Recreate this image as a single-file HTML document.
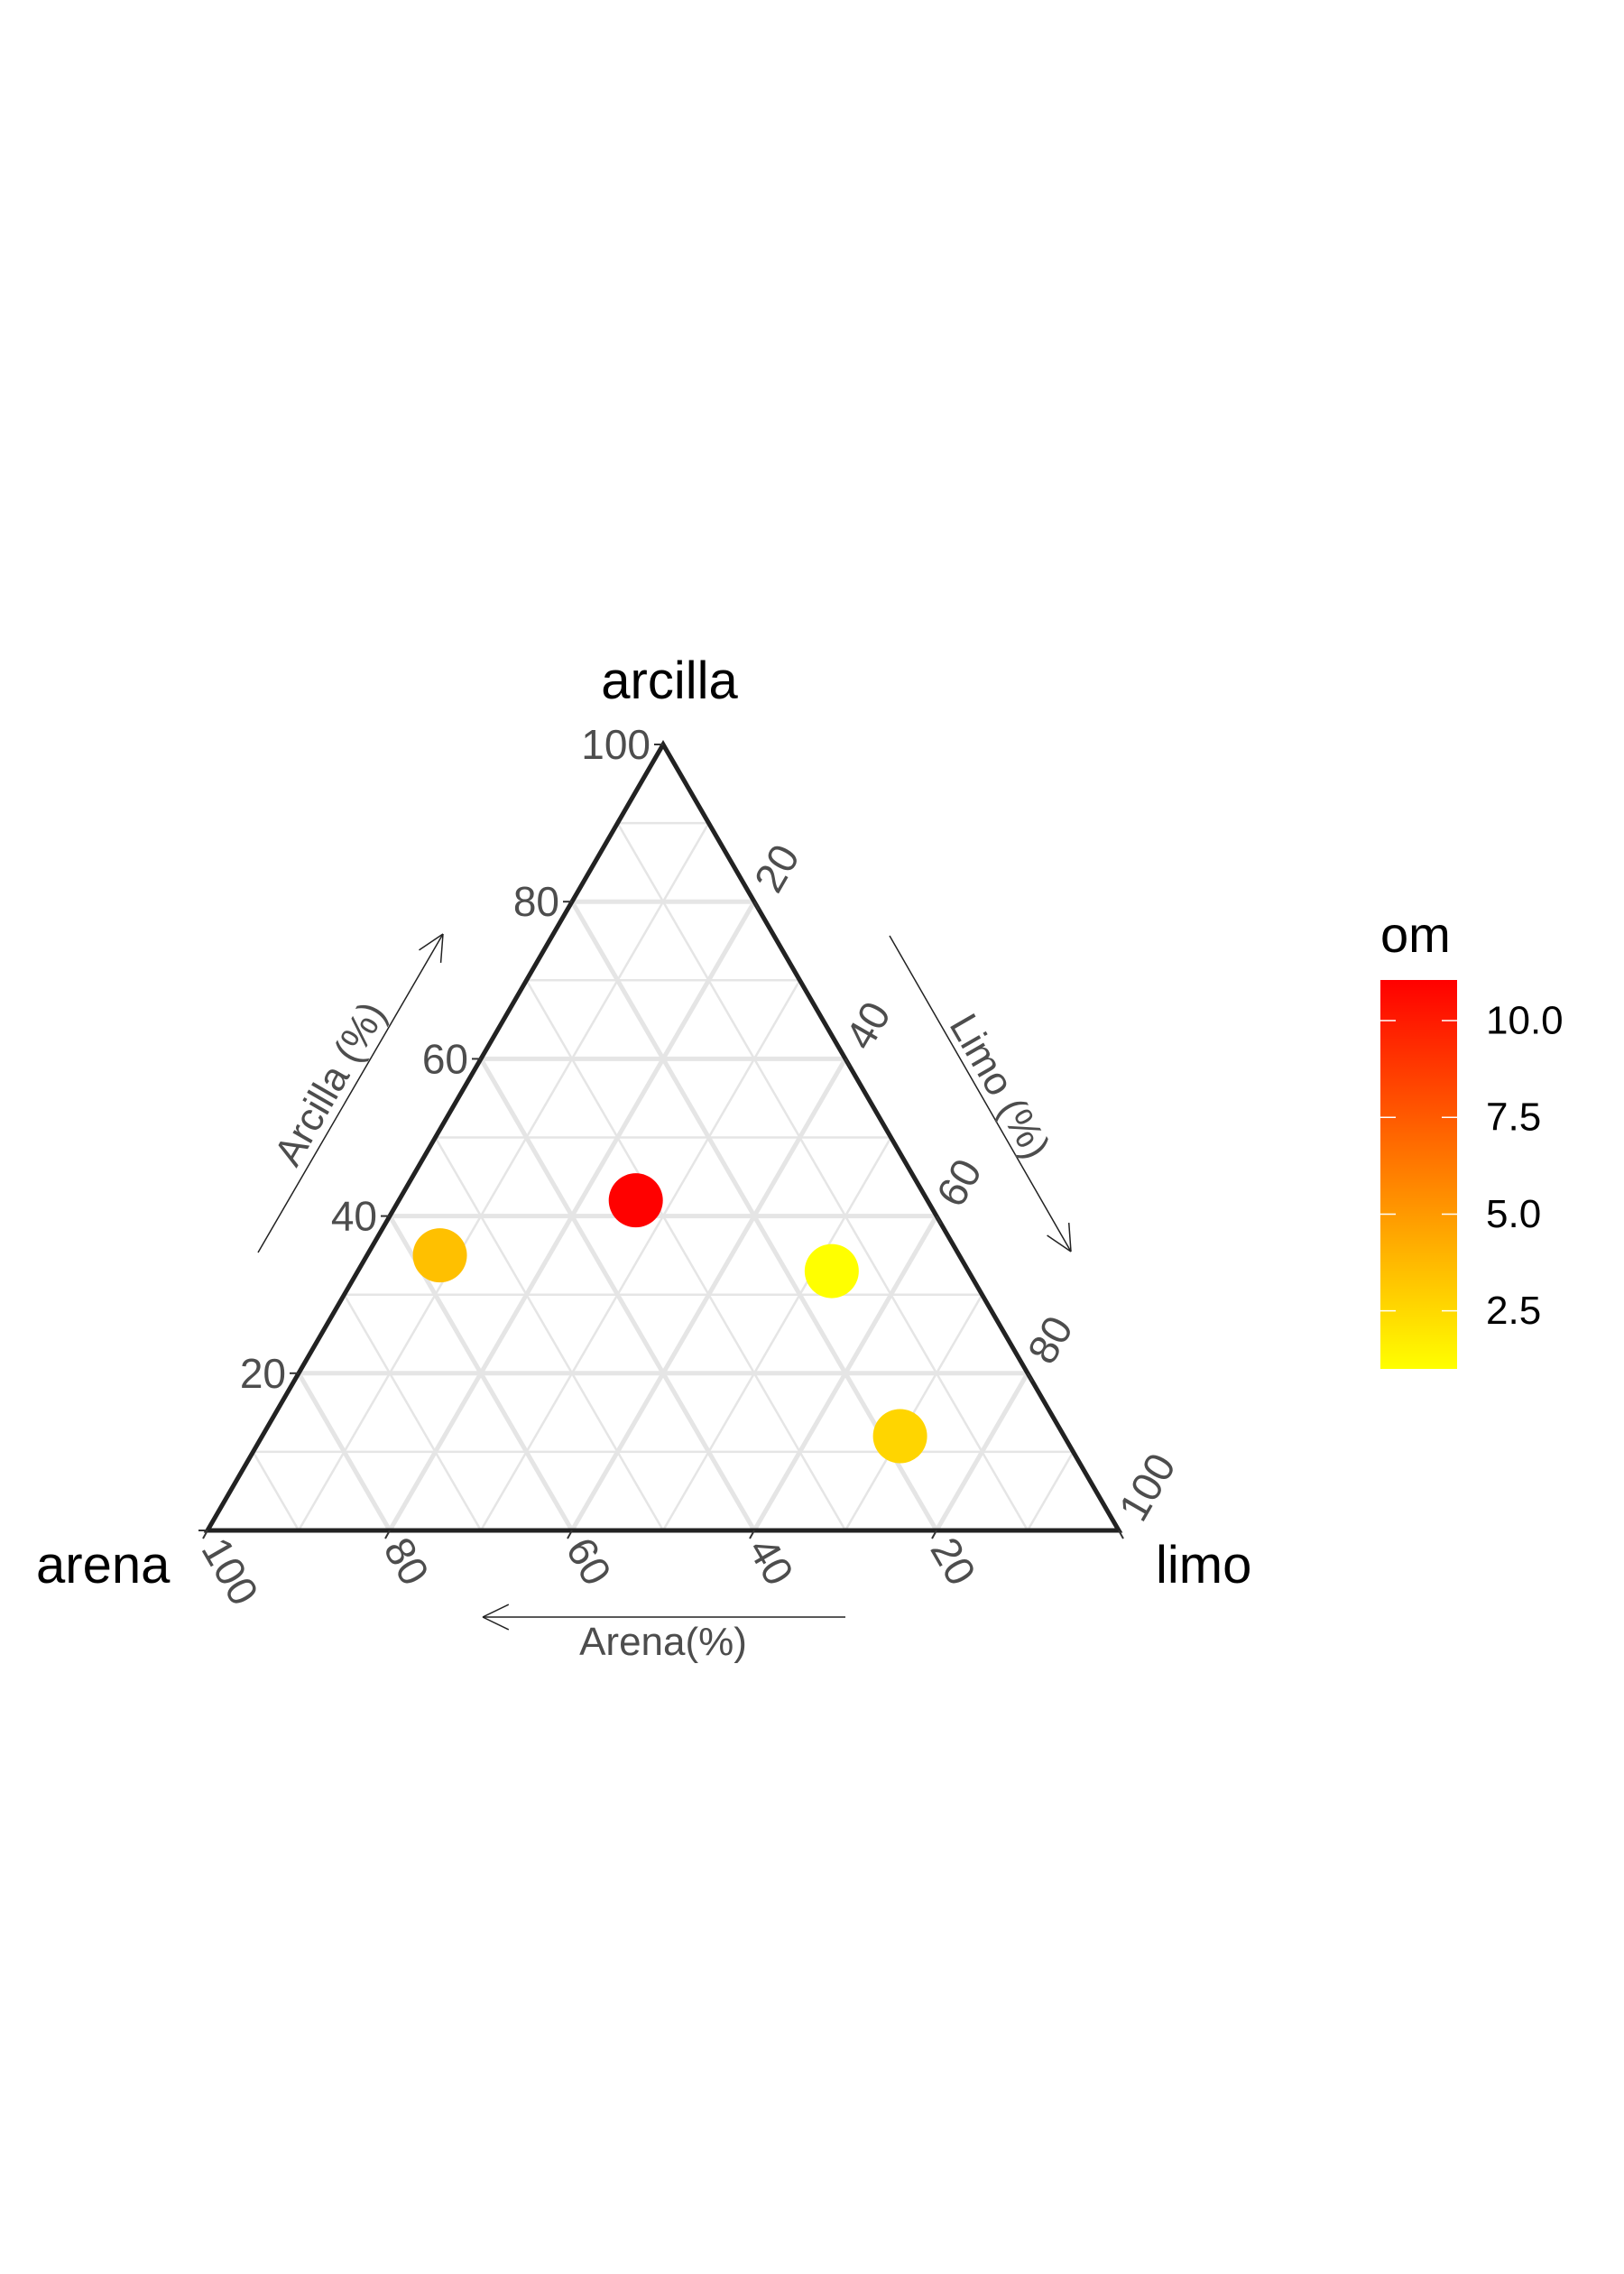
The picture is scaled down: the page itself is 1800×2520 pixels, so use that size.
<!DOCTYPE html>
<html><head><meta charset="utf-8"><style>
html,body{margin:0;padding:0;background:#fff;}
svg{display:block;font-family:"Liberation Sans",Arial,sans-serif;}
</style></head><body>
<svg id="chart" width="1800" height="2520" viewBox="0 0 1800 2520" xmlns="http://www.w3.org/2000/svg">
<defs>
<linearGradient id="omgrad" x1="0" y1="1" x2="0" y2="0">
<stop offset="0" stop-color="#ffff00"/><stop offset="1" stop-color="#ff0000"/>
</linearGradient>
</defs>
<g id="grid"></g>
<g id="axes"></g>
<g id="points"></g>
<g id="legend"></g>
</svg>
<script>
const arenaVals = [57, 32, 15, 18];
const limoVals  = [8, 26, 52, 70];
const clayVals  = [35, 42, 33, 12];
const omVals    = [3.5, 11.0, 1.0, 2.65];
const gridVals = [10,20,30,40,50,60,70,80,90];
const tickVals = [20,40,60,80,100];
const omTicks = [2.5,5.0,7.5,10.0];
const omTickLabels = ["2.5","5.0","7.5","10.0"];

const NS = "http://www.w3.org/2000/svg";
const LX = 230, BY = 1696, W = 1010, H = 871;
function P(arena, limo, clay){
  const s = arena + limo + clay;
  return [LX + (limo + clay/2)/s*W, BY - clay/s*H];
}
function mk(tag, attrs, parent){
  const e = document.createElementNS(NS, tag);
  for (const k in attrs) e.setAttribute(k, attrs[k]);
  parent.appendChild(e); return e;
}
function line(a,b,stroke,w,parent){
  return mk('line',{x1:a[0],y1:a[1],x2:b[0],y2:b[1],stroke:stroke,'stroke-width':w},parent);
}
const grid = document.getElementById('grid');
gridVals.forEach(v=>{
  const w = (v%20===0)?5:2.5;
  let l;
  l = line(P(100-v,0,v), P(0,100-v,v), '#e5e5e5', w, grid);
  
  
  l = line(P(0,v,100-v), P(100-v,v,0), '#e5e5e5', w, grid);
  
  
  l = line(P(v,0,100-v), P(v,100-v,0), '#e5e5e5', w, grid);
  
  
});
const axes = document.getElementById('axes');
const A=P(100,0,0), B=P(0,100,0), C=P(0,0,100);
const tri = mk('polygon',{points:`${A} ${B} ${C}`,fill:'none',stroke:'#222','stroke-width':5,'stroke-linejoin':'miter'},axes);



function text(x,y,str,attrs,parent){
  const t = mk('text',Object.assign({x:x,y:y},attrs),parent);
  t.textContent = str; return t;
}
// clay ticks
[0].concat(tickVals).forEach(v=>{
  const p = P(100-v,0,v);
  line([p[0]-10,p[1]],p,'#333',2,axes);
  if (v>0){
    const t = text(p[0]-14,p[1],String(v),{'text-anchor':'end','dominant-baseline':'central','font-size':46,fill:'#4d4d4d'},axes);
    
    
  }
});
// limo ticks (right edge)
tickVals.forEach(v=>{
  const p = P(0,v,100-v);
  line(p,[p[0]+5,p[1]+9],'#333',2,axes);
  const x=p[0]+12, y=p[1]-15;
  const t = text(x,y,String(v),{'text-anchor':'start','dominant-baseline':'central','font-size':46,fill:'#4d4d4d',transform:`rotate(-60 ${x} ${y})`},axes);
  
  
});
// arena ticks (bottom)
tickVals.forEach(v=>{
  const p = P(v,100-v,0);
  line(p,[p[0]-5,p[1]+9],'#333',2,axes);
  const x=p[0]+6, y=p[1]+12;
  const t = text(x,y,String(v),{'text-anchor':'start','dominant-baseline':'central','font-size':46,fill:'#4d4d4d',transform:`rotate(60 ${x} ${y})`},axes);
  
  
});
// vertex titles
let t;
t = text(742,774,'arcilla',{'text-anchor':'middle','font-size':58,fill:'#000'},axes);
 
t = text(40,1754,'arena',{'text-anchor':'start','font-size':58,fill:'#000'},axes);
 
t = text(1281,1754,'limo',{'text-anchor':'start','font-size':58,fill:'#000'},axes);
 

// arrows
function arrow(x1,y1,x2,y2,name){
  const g = mk('g',{},axes);
  
  
  line([x1,y1],[x2,y2],'#222',1.5,g);
  const ang = Math.atan2(y2-y1,x2-x1), L=32, a=0.45;
  line([x2,y2],[x2-L*Math.cos(ang-a),y2-L*Math.sin(ang-a)],'#222',1.5,g);
  line([x2,y2],[x2-L*Math.cos(ang+a),y2-L*Math.sin(ang+a)],'#222',1.5,g);
}
arrow(937,1792,535,1792,'arena-arrow');
arrow(286,1388,491,1035,'arcilla-arrow');
arrow(986,1037,1187,1387,'limo-arrow');
t = text(735,1834,'Arena(%)',{'text-anchor':'middle','font-size':44,fill:'#4d4d4d'},axes);
 
t = text(366,1201,'Arcilla (%)',{'text-anchor':'middle','dominant-baseline':'central','font-size':44,fill:'#4d4d4d',transform:'rotate(-60 366 1201)'},axes);
 
t = text(1108,1204,'Limo (%)',{'text-anchor':'middle','dominant-baseline':'central','font-size':44,fill:'#4d4d4d',transform:'rotate(60 1108 1204)'},axes);
 

// color scale
const omMin=1.0, omMax=11.05, barTop=1086, barBot=1517, barX=1530, barW=85;
function omY(v){ return barBot - (v-omMin)/(omMax-omMin)*(barBot-barTop); }
function omColor(v){
  const f = Math.max(0,Math.min(1,(v-omMin)/(omMax-omMin)));
  return `rgb(255,${Math.round(255*(1-f))},0)`;
}
const pts = document.getElementById('points');
arenaVals.forEach((a,i)=>{
  const p = P(a,limoVals[i],clayVals[i]);
  const c = mk('circle',{cx:p[0],cy:p[1],r:30,fill:omColor(omVals[i])},pts);
  
  
});
const lg = document.getElementById('legend');
t = text(1530,1055,'om',{'font-size':56,fill:'#000'},lg);
 
const bar = mk('rect',{x:barX,y:barTop,width:barW,height:barBot-barTop,fill:'url(#omgrad)'},lg);


omTicks.forEach((v,i)=>{
  const y = omY(v);
  line([barX,y],[barX+17,y],'#fff',1.5,lg);
  line([barX+barW-17,y],[barX+barW,y],'#fff',1.5,lg);
  const tl = text(1647,y,omTickLabels[i],{'dominant-baseline':'central','font-size':44,fill:'#000'},lg);
  
  
});
</script>
</body></html>
